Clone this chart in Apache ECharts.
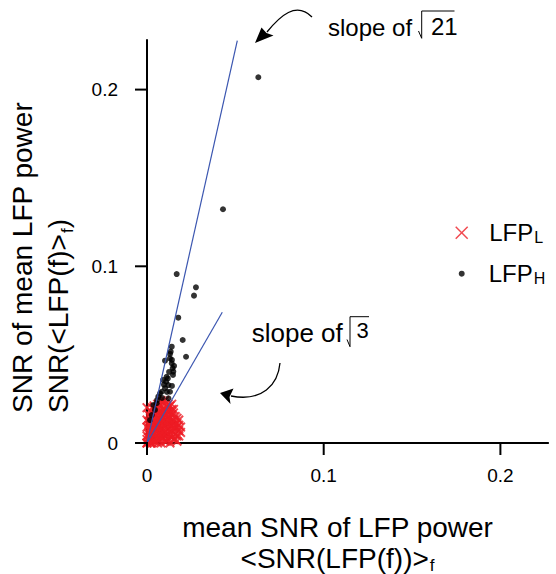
<!DOCTYPE html>
<html><head><meta charset="utf-8">
<script src="https://cdn.jsdelivr.net/npm/echarts@6/dist/echarts.min.js"></script>
<style>html,body{margin:0;padding:0;background:#fff}#c{width:556px;height:574px}</style>
</head><body><div id="c"></div>
<script>
const xTicks = [0, 0.1, 0.2];
const yTicks = [0, 0.1, 0.2];
const seriesNames = ['LFP_L', 'LFP_H'];
// LFP_H (black dots)
const lfpH = [
[0.0630,0.2070],[0.0430,0.1323],[0.0168,0.0956],[0.0277,0.0881],[0.0266,0.0834],
[0.0177,0.0709],[0.0202,0.0583],[0.0221,0.0488],[0.0140,0.0545],[0.0134,0.0517],
[0.0130,0.0504],[0.0102,0.0466],[0.0130,0.0479],[0.0140,0.0451],[0.0145,0.0423],
[0.0149,0.0404],[0.0111,0.0375],[0.0108,0.0347],[0.0121,0.0328],[0.0102,0.0310],
[0.0083,0.0290],[0.0121,0.0253],[0.0064,0.0262],[0.0074,0.0281],[0.0055,0.0225],
[0.0036,0.0215],[0.0027,0.0158],[0.0091,0.0357],[0.0125,0.0402],[0.0141,0.0470],
[0.0153,0.0436],[0.0113,0.0289],[0.0085,0.0255],[0.0045,0.0187],[0.0017,0.0130],
[0.0057,0.0243],[0.0130,0.0290],[0.0141,0.0323],[0.0118,0.0365],[0.0147,0.0385],
[0.0096,0.0330]
];
// LFP_L (red crosses)
const lfpL = [
[0.000,0.000],[0.001,0.001],[0.002,0.000],[0.001,0.003],[0.003,0.002],[0.000,0.004],
[0.002,0.005],[0.004,0.003],[0.005,0.001],[0.003,0.006],[0.001,0.007],[0.006,0.004],
[0.004,0.008],[0.002,0.009],[0.007,0.002],[0.008,0.005],[0.005,0.007],[0.003,0.011],
[0.006,0.009],[0.001,0.012],[0.009,0.003],[0.010,0.006],[0.007,0.011],[0.004,0.013],
[0.008,0.009],[0.002,0.015],[0.011,0.004],[0.012,0.008],[0.009,0.012],[0.006,0.014],
[0.005,0.016],[0.010,0.010],[0.003,0.017],[0.013,0.006],[0.014,0.003],[0.011,0.013],
[0.008,0.015],[0.007,0.018],[0.012,0.011],[0.015,0.008],[0.010,0.016],[0.009,0.019],
[0.013,0.014],[0.016,0.005],[0.014,0.010],[0.011,0.018],[0.012,0.020],[0.015,0.013],
[0.017,0.009],[0.013,0.017],[0.008,0.021],[0.010,0.022],[0.014,0.016],[0.016,0.012],
[0.018,0.007],[0.017,0.004],[0.015,0.002],[0.012,0.002],[0.018,0.010],[0.016,0.015],
[0.013,0.021],[0.011,0.021],[0.006,0.020],[0.004,0.019],[0.002,0.018],[0.001,0.016],
[0.000,0.009],[0.000,0.013],[0.003,0.014],[0.005,0.011],[0.007,0.006],[0.009,0.008],
[0.011,0.001],[0.006,0.000],[0.003,0.000],[0.008,0.000],[0.013,0.000],[0.017,0.001],
[0.016,0.008],[0.014,0.019],[0.009,0.014],[0.007,0.013],[0.005,0.004],[0.010,0.004],
[0.012,0.015],[0.015,0.017],[0.002,0.002],[0.004,0.001],[0.001,0.005],[0.006,0.002],
[0.010,0.001],[0.019,0.006],[0.018,0.013],[0.017,0.011],[0.009,0.017],[0.011,0.009],
[0.012,0.005],[0.000,0.002],[0.000,0.000],[0.002,0.000],[0.000,0.020],[0.006,0.022],
[0.004,0.021],[0.008,0.024],[0.010,0.024],[0.014,0.022],
[0.001,0.010],[0.002,0.012],[0.004,0.010],[0.003,0.008],[0.005,0.013],[0.006,0.011],
[0.007,0.016],[0.008,0.012],[0.009,0.010],[0.010,0.013],[0.011,0.011],[0.012,0.013],
[0.013,0.010],[0.014,0.012],[0.015,0.010],[0.016,0.010],[0.014,0.007],[0.013,0.004],
[0.011,0.006],[0.009,0.006],[0.008,0.003],[0.007,0.008],[0.006,0.006],[0.004,0.005],
[0.002,0.007],[0.005,0.009],[0.010,0.019],[0.012,0.018],[0.011,0.016],[0.008,0.018],
[0.006,0.017],[0.004,0.016],[0.003,0.020],[0.007,0.022],[0.009,0.023],[0.012,0.022],
[0.015,0.019],[0.017,0.014],[0.018,0.004],[0.019,0.009],[0.016,0.002],[0.014,0.005]
];
// reference slope lines (sqrt(21) and sqrt(3)), endpoints
const slope21Line = [[0, 0], [0.0511, 0.2277]];
const slope3Line = [[0, 0], [0.0426, 0.0740]];
const yTitleLines = ['SNR of mean LFP power', 'SNR(<LFP(f)>', 'f', ')'];

const FONT = '"Liberation Sans", Arial, Helvetica, sans-serif';
const crossPath = 'path://M0,1.4L1.4,0L5,3.6L8.6,0L10,1.4L6.4,5L10,8.6L8.6,10L5,6.4L1.4,10L0,8.6L3.6,5Z';
const crossThin = 'path://M0,0.8L0.8,0L5,4.2L9.2,0L10,0.8L5.8,5L10,9.2L9.2,10L5,5.8L0.8,10L0,9.2L4.2,5Z';
const RED = '#ed1c24', BLUE = '#3b56b0';

// pixel scale: data unit -> px (same for both axes)
const PX = 1767;
const G = {left: 147, bottom: 443};
const xMax = 0.227, yMax = 0.228, TICK = 12;

const chart = echarts.init(document.getElementById('c'), null, {renderer: 'svg'});
const axisCommon = {
  type: 'value', min: 0,
  axisLine: {onZero: false, lineStyle: {color: '#000', width: 2}},
  axisTick: {show: false},
  splitLine: {show: false},
  nameLocation: 'middle'
};
const legendRich = {
  m: {fontSize: 24, lineHeight: 26, color: '#000', fontFamily: FONT},
  s: {fontSize: 16, lineHeight: 16, padding: [12, 0, 0, 1], verticalAlign: 'bottom', color: '#000', fontFamily: FONT}
};
const legendFmt = n => '{m|LFP}{s|' + n.split('_')[1] + '}';

// outward tick marks (same scale as the grid: value * PX from the origin)
const tickMarks = [];
xTicks.forEach(v => {
  const x = G.left + v * PX;
  tickMarks.push({type: 'polyline', silent: true, z: 100,
    shape: {points: [[x, G.bottom - 1], [x, G.bottom + TICK]]}, style: {stroke: '#000', lineWidth: 2, fill: null}});
});
yTicks.forEach(v => {
  const y = G.bottom - v * PX;
  tickMarks.push({type: 'polyline', silent: true, z: 100,
    shape: {points: [[G.left - TICK, y], [G.left + 1, y]]}, style: {stroke: '#000', lineWidth: 2, fill: null}});
});

const annotations = [
  // y-axis title (rotated, reads bottom to top)
  {type: 'text', x: 4, y: 413, rotation: Math.PI / 2, silent: true,
   style: {text: '{a|' + yTitleLines[0] + '}\n{a|' + yTitleLines[1] + '}{s|' + yTitleLines[2] + '}{a|' + yTitleLines[3] + '}',
     align: 'left', verticalAlign: 'top', fontFamily: FONT, fill: '#000',
     rich: {
       a: {fontSize: 28, lineHeight: 36, fill: '#000', fontFamily: FONT},
       s: {fontSize: 17, lineHeight: 17, padding: [14, 0, 0, 1], verticalAlign: 'bottom', fill: '#000', fontFamily: FONT}
     }}},
  {type: 'text', x: 328, y: 27.7, silent: true,
   style: {text: 'slope of', fontSize: 24, fontFamily: FONT, fill: '#000', verticalAlign: 'middle', align: 'left'}},
  {type: 'text', x: 431, y: 26, silent: true,
   style: {text: '21', fontSize: 24, fontFamily: FONT, fill: '#000', verticalAlign: 'middle', align: 'left'}},
  {type: 'polyline', silent: true, shape: {points: [[418.5, 31], [421.7, 38.3], [421.7, 11], [454.5, 11]]},
   style: {stroke: '#000', lineWidth: 1, fill: null}},
  {type: 'bezierCurve', silent: true, shape: {x1: 312, y1: 17, cpx1: 296, cpy1: 1, cpx2: 280, cpy2: 16, x2: 267, y2: 32},
   style: {stroke: '#000', lineWidth: 1.3, fill: null}},
  {type: 'polygon', silent: true, shape: {points: [[255, 43], [261.5, 27.5], [266.5, 33], [273.5, 35.5]]},
   style: {fill: '#000'}},
  {type: 'text', x: 251.7, y: 332.7, silent: true,
   style: {text: 'slope of', fontSize: 26, fontFamily: FONT, fill: '#000', verticalAlign: 'middle', align: 'left'}},
  {type: 'text', x: 356.5, y: 330.5, silent: true,
   style: {text: '3', fontSize: 22, fontFamily: FONT, fill: '#000', verticalAlign: 'middle', align: 'left'}},
  {type: 'polyline', silent: true, shape: {points: [[347, 339.5], [350, 346.7], [350, 316.7], [369, 316.7]]},
   style: {stroke: '#000', lineWidth: 1, fill: null}},
  {type: 'bezierCurve', silent: true, shape: {x1: 280, y1: 363, cpx1: 278, cpy1: 385, cpx2: 262, cpy2: 402, x2: 231, y2: 396},
   style: {stroke: '#000', lineWidth: 1.3, fill: null}},
  {type: 'polygon', silent: true, shape: {points: [[220, 393], [233.5, 388.5], [229.5, 397], [230.5, 404]]},
   style: {fill: '#000'}}
];

chart.setOption({
  animation: false,
  backgroundColor: '#fff',
  textStyle: {fontFamily: FONT},
  grid: {left: G.left, top: G.bottom - yMax * PX, width: xMax * PX, height: yMax * PX, containLabel: false, outerBoundsMode: 'none'},
  xAxis: Object.assign({}, axisCommon, {
    max: xMax,
    axisLabel: {customValues: xTicks, margin: 23, fontSize: 19, color: '#000', fontFamily: FONT},
    name: '{a|mean SNR of LFP power}\n{a|<SNR(LFP(f))>}{s|f}',
    nameGap: 69,
    nameTextStyle: {color: '#000', fontFamily: FONT, padding: [0, 20, 0, 0], rich: {
      a: {fontSize: 28, lineHeight: 31, color: '#000', fontFamily: FONT},
      s: {fontSize: 17, lineHeight: 17, padding: [12, 0, 0, 1], verticalAlign: 'bottom', color: '#000', fontFamily: FONT}
    }}
  }),
  yAxis: Object.assign({}, axisCommon, {
    max: yMax,
    axisLabel: {customValues: yTicks, margin: 29, fontSize: 19, color: '#000', fontFamily: FONT}
  }),
  legend: [
    {data: [{name: seriesNames[0], icon: crossThin}], left: 455.2, top: 217.7, padding: 0, itemWidth: 13, itemHeight: 13,
     selectedMode: false, formatter: legendFmt,
     textStyle: {padding: [0, 0, 0, 16], rich: legendRich}},
    {data: [{name: seriesNames[1], icon: 'circle'}], left: 458.7, top: 258.7, padding: 0, itemWidth: 6, itemHeight: 6,
     selectedMode: false, formatter: legendFmt,
     textStyle: {padding: [0, 0, 0, 19], rich: legendRich}}
  ],
  series: [
    {name: seriesNames[0], type: 'scatter', data: lfpL, symbol: crossPath, symbolSize: 10, clip: false,
     itemStyle: {color: RED}, z: 2, silent: true},
    {name: seriesNames[1], type: 'scatter', data: lfpH, symbol: 'circle', symbolSize: 6, clip: false,
     itemStyle: {color: '#000'}, z: 3, silent: true},
    {name: 'slope sqrt21', type: 'line', data: slope21Line, showSymbol: false,
     lineStyle: {color: BLUE, width: 1.2}, z: 4, silent: true},
    {name: 'slope sqrt3', type: 'line', data: slope3Line, showSymbol: false,
     lineStyle: {color: BLUE, width: 1.2}, z: 4, silent: true}
  ],
  graphic: annotations.concat(tickMarks)
});
</script></body></html>
